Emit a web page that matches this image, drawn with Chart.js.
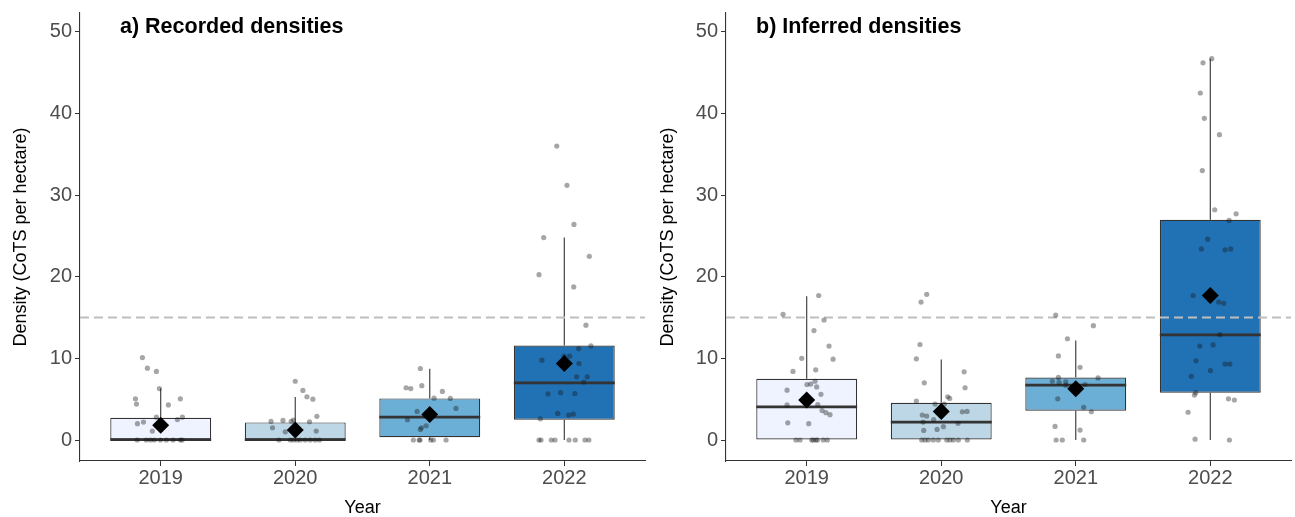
<!DOCTYPE html>
<html>
<head>
<meta charset="utf-8">
<script src="https://cdn.jsdelivr.net/npm/chart.js@4.4.1/dist/chart.umd.min.js"></script>
<style>
  html, body { margin: 0; padding: 0; background: #ffffff; }
  #wrap { display: flex; width: 1295px; height: 517px; }
  canvas { display: block; }
</style>
</head>
<body>
<div id="wrap">
  <canvas id="c1" width="647" height="517"></canvas>
  <canvas id="c2" width="648" height="517"></canvas>
</div>
<script>
// ---------------- DATA ----------------
const years = ['2019', '2020', '2021', '2022'];
const yTicks = [0, 10, 20, 30, 40, 50];
const threshold = 15;

// a) Recorded densities – box statistics
const recQ1     = [0.00, 0.00, 0.33, 2.48];
const recMedian = [0.05, 0.05, 2.81, 7.00];
const recQ3     = [2.73, 2.16, 5.10, 11.57];
const recLow    = [0.00, 0.00, 0.00, 0.00];
const recHigh   = [6.30, 5.26, 8.72, 24.80];
const recMean   = [1.80, 1.22, 3.14, 9.37];

// a) Recorded densities – jittered observations (x = year position, y = density)
const recPtsX = [
  0.864, 0.901, 0.968, 0.990, 0.812, 0.820, 1.146, 1.057, 1.161, 1.124, 0.968, 0.872, 0.827, 0.938,
  0.825, 0.892, 0.924, 0.953, 0.998, 1.042, 1.092, 1.146, 1.159,
  2.000, 2.057, 2.087, 2.131, 2.161, 1.820, 1.909, 1.970, 1.987, 2.106, 1.831, 1.926, 2.156,
  1.879, 1.963, 1.987, 2.013, 2.037, 2.074, 2.111, 2.148, 2.180,
  2.930, 2.824, 2.859, 2.941, 3.094, 3.032, 3.153, 3.195, 2.906, 2.834, 2.973, 2.938, 2.930,
  2.878, 2.921, 2.928, 3.007, 3.027, 3.121,
  3.944, 4.020, 4.072, 3.847, 4.186, 3.812, 4.070, 4.161, 4.198, 4.107, 3.834, 3.998, 4.040, 4.109,
  4.092, 4.171, 4.144, 3.879, 3.973, 4.079, 3.951, 4.033, 4.067, 3.822,
  3.812, 3.827, 3.903, 3.931, 4.035, 4.082, 4.154, 4.183
];
const recPtsY = [
  10.1, 8.8, 8.4, 6.3, 5.05, 4.4, 5.05, 4.3, 2.8, 2.5, 2.8, 2.2, 2.0, 1.1,
  0, 0, 0, 0, 0, 0, 0, 0, 0,
  7.2, 6.07, 5.3, 5.0, 2.9, 2.28, 2.4, 2.3, 2.44, 2.24, 1.5, 1.0, 1.1,
  0, 0, 0, 0, 0, 0, 0, 0, 0,
  8.76, 6.4, 6.3, 6.65, 5.95, 5.13, 5.1, 3.87, 3.5, 2.48, 1.75, 1.5, 1.3,
  0, 0, 0, 0, 0, 0,
  36.0, 31.2, 26.4, 24.8, 22.5, 20.25, 18.75, 14.06, 11.53, 11.2, 9.78, 10.27, 10.27, 9.37,
  7.74, 7.74, 7.1, 5.66, 5.8, 5.7, 3.26, 3.06, 3.18, 2.6,
  0, 0, 0, 0, 0, 0, 0, 0
];

// b) Inferred densities – box statistics
const infQ1     = [0.00, 0.00, 3.59, 5.78];
const infMedian = [4.07, 2.20, 6.72, 12.87];
const infQ3     = [7.50, 4.56, 7.66, 26.98];
const infLow    = [0.00, 0.00, 0.00, 0.00];
const infHigh   = [17.60, 9.87, 12.20, 46.70];
const infMean   = [4.90, 3.50, 6.28, 17.70];

// b) Inferred densities – jittered observations
const infPtsX = [
  1.089, 0.824, 1.129, 1.054, 1.166, 0.963, 1.196, 0.898, 1.067, 1.062, 1.002, 1.030, 1.074, 0.854,
  1.106, 0.854, 1.082, 1.114, 1.143, 1.173, 0.859, 1.015,
  0.920, 0.950, 1.037, 1.049, 1.069, 1.079, 1.123, 1.153,
  1.892, 1.850, 1.842, 1.815, 2.170, 1.874, 2.177, 2.048, 2.063, 1.815, 1.954, 2.023, 2.157, 2.192,
  1.859, 1.892, 1.944, 1.865, 2.125, 2.016, 1.870, 1.969,
  1.855, 1.880, 1.904, 1.941, 1.978, 2.041, 2.065, 2.090, 2.127, 2.194,
  2.851, 3.131, 2.938, 2.871, 3.032, 3.166, 2.826, 2.871, 2.876, 2.926, 2.926, 3.069, 2.866, 3.059,
  3.116, 2.846, 3.032, 2.854, 2.900, 3.059,
  4.011, 3.946, 3.926, 3.956, 4.068, 3.941, 4.033, 4.192, 4.140, 3.981, 3.934, 4.110, 4.152, 3.872,
  4.063, 4.100, 4.071, 3.922, 4.021, 3.894, 4.110, 4.145, 4.001, 3.859, 3.892, 3.882, 4.135, 4.179,
  3.835, 3.887, 4.142
];
const infPtsY = [
  17.7, 15.4, 14.7, 13.4, 11.5, 10.0, 9.9, 8.4, 8.6, 7.2, 6.8, 6.85, 6.5, 6.1,
  5.6, 4.3, 4.35, 3.6, 3.35, 3.1, 2.1, 2.0,
  0, 0, 0, 0, 0, 0, 0, 0,
  17.85, 16.9, 11.7, 9.95, 8.35, 7.0, 6.4, 5.3, 5.1, 4.77, 4.4, 4.4, 3.46, 3.5,
  3.06, 2.93, 2.5, 2.2, 2.04, 1.63, 1.18, 1.3,
  0, 0, 0, 0, 0, 0, 0, 0, 0, 0,
  15.3, 14.0, 12.4, 10.3, 8.9, 7.6, 7.2, 7.66, 7.05, 7.13, 6.72, 6.8, 5.05, 4.0,
  3.46, 1.67, 1.22, 0, 0, 0,
  46.7, 46.2, 42.5, 39.4, 37.4, 33.0, 28.2, 27.7, 26.9, 24.6, 23.4, 23.3, 23.4, 17.7,
  16.9, 16.75, 12.9, 11.5, 11.65, 9.7, 9.3, 9.3, 8.5, 7.8, 5.8, 5.5, 5.05, 4.9,
  3.4, 0.1, 0
];

// ---------------- STYLE ----------------
const FONT = "'Liberation Sans', Arial, Helvetica, sans-serif";
const boxFill = ['#EFF3FF', '#BDD7E7', '#6BAED6', '#2171B5'];
const lineCol = '#333333';

const boxExtras = {
  id: 'boxExtras',
  afterDatasetDraw(chart, args, o) {
    if (args.index !== o.barIndex) return;
    const ctx = chart.ctx, xs = chart.scales.x, ys = chart.scales.y, ca = chart.chartArea;
    const meta = chart.getDatasetMeta(o.barIndex);
    ctx.save();
    ctx.strokeStyle = lineCol;
    ctx.lineWidth = 1.1;
    o.q1.forEach((q, i) => {
      const cx = xs.getPixelForValue(i + 1);
      ctx.beginPath();
      ctx.moveTo(cx, ys.getPixelForValue(o.q1[i]));
      ctx.lineTo(cx, ys.getPixelForValue(o.low[i]));
      ctx.moveTo(cx, ys.getPixelForValue(o.q3[i]));
      ctx.lineTo(cx, ys.getPixelForValue(o.high[i]));
      ctx.stroke();
    });
    ctx.lineWidth = 2.8;
    o.median.forEach((m, i) => {
      const cx = xs.getPixelForValue(i + 1);
      const half = meta.data[i].width / 2;
      const py = ys.getPixelForValue(m);
      ctx.beginPath();
      ctx.moveTo(cx - half, py);
      ctx.lineTo(cx + half, py);
      ctx.stroke();
    });
    ctx.setLineDash([9, 5]);
    ctx.strokeStyle = '#BEBEBE';
    ctx.lineWidth = 2;
    const ty = ys.getPixelForValue(o.threshold);
    ctx.beginPath();
    ctx.moveTo(ca.left, ty);
    ctx.lineTo(ca.right, ty);
    ctx.stroke();
    ctx.restore();
  },
  afterDraw(chart, args, o) {
    const ctx = chart.ctx;
    ctx.save();
    ctx.font = 'bold 21.5px ' + FONT;
    ctx.fillStyle = '#000';
    ctx.textAlign = 'left';
    ctx.textBaseline = 'middle';
    ctx.fillText(o.title, chart.chartArea.left + o.titleOffset, 27);
    ctx.restore();
  }
};

function makeChart(id, p) {
  const bars = years.map((_, i) => ({ x: i + 1, y: [p.q1[i], p.q3[i]] }));
  const pts = p.px.map((x, i) => ({ x: x, y: p.py[i] }));
  const means = years.map((_, i) => ({ x: i + 1, y: p.mean[i] }));
  return new Chart(document.getElementById(id), {
    type: 'scatter',
    data: {
      datasets: [
        { type: 'scatter', data: means, pointStyle: 'rectRot', pointRadius: 8.5,
          backgroundColor: '#000', borderWidth: 0 },
        { type: 'scatter', data: pts, pointRadius: 2.6,
          backgroundColor: 'rgba(20,20,20,0.38)', borderWidth: 0 },
        { type: 'bar', data: bars, backgroundColor: boxFill, borderColor: lineCol,
          borderWidth: 1.2, borderSkipped: false, categoryPercentage: 1, barPercentage: 0.75 }
      ]
    },
    options: {
      responsive: false,
      animation: false,
      events: [],
      layout: { autoPadding: false, padding: { top: 12, right: p.padRight, left: 0, bottom: 0 } },
      plugins: {
        legend: { display: false },
        tooltip: { enabled: false },
        boxExtras: { barIndex: 2, q1: p.q1, q3: p.q3, median: p.median, low: p.low, high: p.high,
                     threshold: threshold, title: p.title, titleOffset: p.titleOffset }
      },
      scales: {
        x: {
          type: 'linear', min: 0.4, max: 4.6, offset: false,
          afterBuildTicks: s => { s.ticks = years.map((_, i) => ({ value: i + 1 })); },
          afterFit: s => { s.height = 56; },
          ticks: { callback: v => years[Math.round(v) - 1], color: '#4D4D4D',
                   font: { family: FONT, size: 20, lineHeight: 1 }, padding: 2, maxRotation: 0 },
          grid: { offset: false, drawOnChartArea: false, drawTicks: true, tickLength: 5, color: lineCol },
          border: { display: true, color: lineCol, width: 1.1 },
          title: { display: true, text: 'Year', color: '#000',
                   font: { family: FONT, size: 18, lineHeight: 1 }, padding: { top: 0, bottom: 0 } }
        },
        y: {
          type: 'linear', min: -2.57, max: 52.3,
          afterBuildTicks: s => { s.ticks = yTicks.map(v => ({ value: v })); },
          afterFit: s => { s.width = p.yWidth; },
          ticks: { color: '#4D4D4D', font: { family: FONT, size: 20, lineHeight: 1 }, padding: 3 },
          grid: { drawOnChartArea: false, drawTicks: true, tickLength: 5, color: lineCol },
          border: { display: true, color: lineCol, width: 1.1 },
          title: { display: true, text: 'Density (CoTS per hectare)', color: '#000',
                   font: { family: FONT, size: 18, lineHeight: 1 }, padding: { top: 12, bottom: 0 } }
        }
      }
    },
    plugins: [boxExtras]
  });
}

makeChart('c1', {
  q1: recQ1, q3: recQ3, median: recMedian, low: recLow, high: recHigh, mean: recMean,
  px: recPtsX, py: recPtsY, title: 'a) Recorded densities', titleOffset: 40,
  yWidth: 80, padRight: 2
});
makeChart('c2', {
  q1: infQ1, q3: infQ3, median: infMedian, low: infLow, high: infHigh, mean: infMean,
  px: infPtsX, py: infPtsY, title: 'b) Inferred densities', titleOffset: 30,
  yWidth: 79, padRight: 4
});
</script>
</body>
</html>
